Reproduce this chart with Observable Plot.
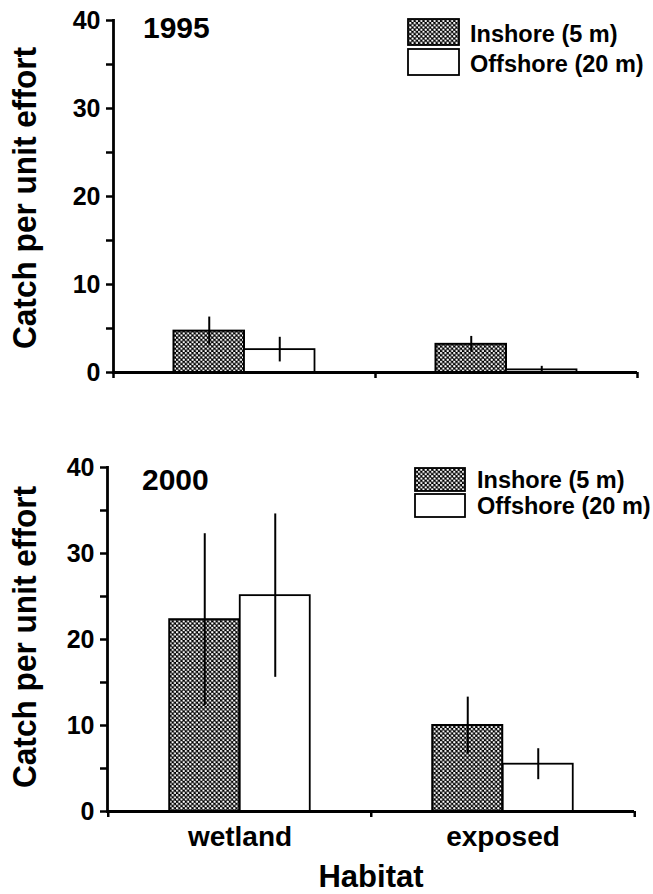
<!DOCTYPE html>
<html><head><meta charset="utf-8">
<script src="https://cdn.jsdelivr.net/npm/d3@7"></script>
<script src="https://cdn.jsdelivr.net/npm/@observablehq/plot@0.6"></script>
<style>
body{margin:0;background:#fff;}
#wrap{position:relative;width:653px;height:894px;overflow:hidden;}
#wrap > svg{position:absolute;left:0;}
svg text{font-family:"Liberation Sans",Arial,Helvetica,sans-serif;font-weight:bold;}
</style></head><body>
<div id="wrap"></div>
<script>
// ---- data ----
const habitats = ["wetland", "exposed"];
const depths = ["Inshore (5 m)", "Offshore (20 m)"];
const years = ["1995", "2000"];
const cpue1995Inshore = [4.7, 3.2];
const err1995Inshore = [1.6, 0.9];
const cpue1995Offshore = [2.6, 0.3];
const err1995Offshore = [1.4, 0.4];
const cpue2000Inshore = [22.3, 10.0];
const err2000Inshore = [10.0, 3.3];
const cpue2000Offshore = [25.1, 5.5];
const err2000Offshore = [9.5, 1.8];
const yTicks = [0, 5, 10, 15, 20, 25, 30, 35, 40];
const yLabelTicks = [0, 10, 20, 30, 40];
const yTitle = "Catch per unit effort";
const xTitle = "Habitat";

const series = {
  "1995": {inshore: cpue1995Inshore, inErr: err1995Inshore, offshore: cpue1995Offshore, offErr: err1995Offshore},
  "2000": {inshore: cpue2000Inshore, inErr: err2000Inshore, offshore: cpue2000Offshore, offErr: err2000Offshore}
};
function rows(values, errs) {
  return habitats.map((h, i) => ({habitat: h, value: values[i], lo: Math.max(0, values[i] - errs[i]), hi: values[i] + errs[i]}));
}

// ---- layout ----
const W = 653;
const layout = {
  "1995": {top: 0, height: 400, mt: 20, mb: 28, ml: 113, mr: 16, xlabels: false,
           yearX: 143, yearY: 38, legX: 408, legY: 19, boxW: 51, boxH: 26, step: 30, txtDy: 23, titleY: 198},
  "2000": {top: 420, height: 474, mt: 47, mb: 83, ml: 107, mr: 19, xlabels: true,
           yearX: 142, yearY: 490, legX: 415, legY: 468, boxW: 50, boxH: 23, step: 26, txtDy: 20, titleY: 637}
};
const barW = 70.5;
const FONT = '"Liberation Sans", Arial, Helvetica, sans-serif';

const wrap = document.getElementById("wrap");

// overlay svg with pattern, titles, legend
const ov = d3.create("svg").attr("width", W).attr("height", 894).style("top", "0px").style("pointer-events", "none");
const defs = ov.append("defs");
const pat = defs.append("pattern").attr("id", "xhatch").attr("patternUnits", "userSpaceOnUse")
  .attr("width", 4.4).attr("height", 4.4);
pat.append("rect").attr("width", 4.4).attr("height", 4.4).attr("fill", "#000");
pat.append("circle").attr("cx", 1.1).attr("cy", 1.1).attr("r", 1.15).attr("fill", "#fff");
pat.append("circle").attr("cx", 3.3).attr("cy", 3.3).attr("r", 1.15).attr("fill", "#fff");

for (const yr of years) {
  const L = layout[yr];
  const S = series[yr];
  const B = (W - L.ml - L.mr) / habitats.length;
  const inRows = rows(S.inshore, S.inErr);
  const offRows = rows(S.offshore, S.offErr);
  const marks = [
    Plot.barY(inRows, {x: "habitat", y: "value", fill: "url(#xhatch)", stroke: "#000", strokeWidth: 2,
      insetLeft: B / 2 - barW, insetRight: B / 2}),
    Plot.barY(offRows, {x: "habitat", y: "value", fill: "#fff", stroke: "#000", strokeWidth: 1.8,
      insetLeft: B / 2, insetRight: B / 2 - barW}),
    Plot.ruleX(inRows, {x: "habitat", y1: "lo", y2: "hi", dx: -barW / 2, stroke: "#000", strokeWidth: 2}),
    Plot.ruleX(offRows, {x: "habitat", y1: "lo", y2: "hi", dx: barW / 2, stroke: "#000", strokeWidth: 2}),
    Plot.ruleY([0], {stroke: "#000", strokeWidth: 2.8}),
    Plot.frame({anchor: "left", stroke: "#000", strokeWidth: 2.8}),
    Plot.axisY(yTicks, {tickSize: 7, tickPadding: 6, strokeWidth: 2.5, fontSize: 25, fontWeight: "bold",
      tickFormat: d => yLabelTicks.includes(d) ? String(d) : "", label: null}),
    Plot.axisX(habitats, {tickSize: 6, strokeWidth: 2.5, dx: -B / 2, tickFormat: () => "", label: null}),
    Plot.axisX(habitats.slice(-1), {tickSize: 6, strokeWidth: 2.5, dx: B / 2, tickFormat: () => "", label: null})
  ];
  if (L.xlabels) {
    marks.push(Plot.axisX(habitats, {tickSize: 0, tickPadding: 15, fontSize: 28, fontWeight: "bold", label: null}));
  }
  const chart = Plot.plot({
    width: W, height: L.height,
    marginTop: L.mt, marginBottom: L.mb, marginLeft: L.ml, marginRight: L.mr,
    x: {domain: habitats, padding: 0, label: null},
    y: {domain: [0, 40], label: null},
    style: {fontFamily: FONT, fontWeight: "bold", fontSize: "24px", color: "#000", background: "transparent", overflow: "visible"},
    marks
  });
  chart.style.top = L.top + "px";
  wrap.appendChild(chart);

  // y title (slightly condensed like the original typeface)
  ov.append("text").attr("transform", `translate(36,${L.titleY}) rotate(-90) scale(0.93,1)`).attr("text-anchor", "middle")
    .attr("font-size", 34).text(yTitle);
  // year label
  ov.append("text").attr("x", L.yearX).attr("y", L.yearY).attr("font-size", 30).text(yr);
  // legend
  depths.forEach((d, i) => {
    const y0 = L.legY + i * L.step;
    ov.append("rect").attr("x", L.legX).attr("y", y0).attr("width", L.boxW).attr("height", L.boxH)
      .attr("fill", i === 0 ? "url(#xhatch)" : "#fff").attr("stroke", "#000").attr("stroke-width", 1.8);
    ov.append("text").attr("x", L.legX + 62).attr("y", y0 + L.txtDy).attr("font-size", 23.5).text(d);
  });
}
ov.append("text").attr("x", 371).attr("y", 887).attr("text-anchor", "middle").attr("font-size", 31).text(xTitle);
wrap.appendChild(ov.node());
</script>
</body></html>
